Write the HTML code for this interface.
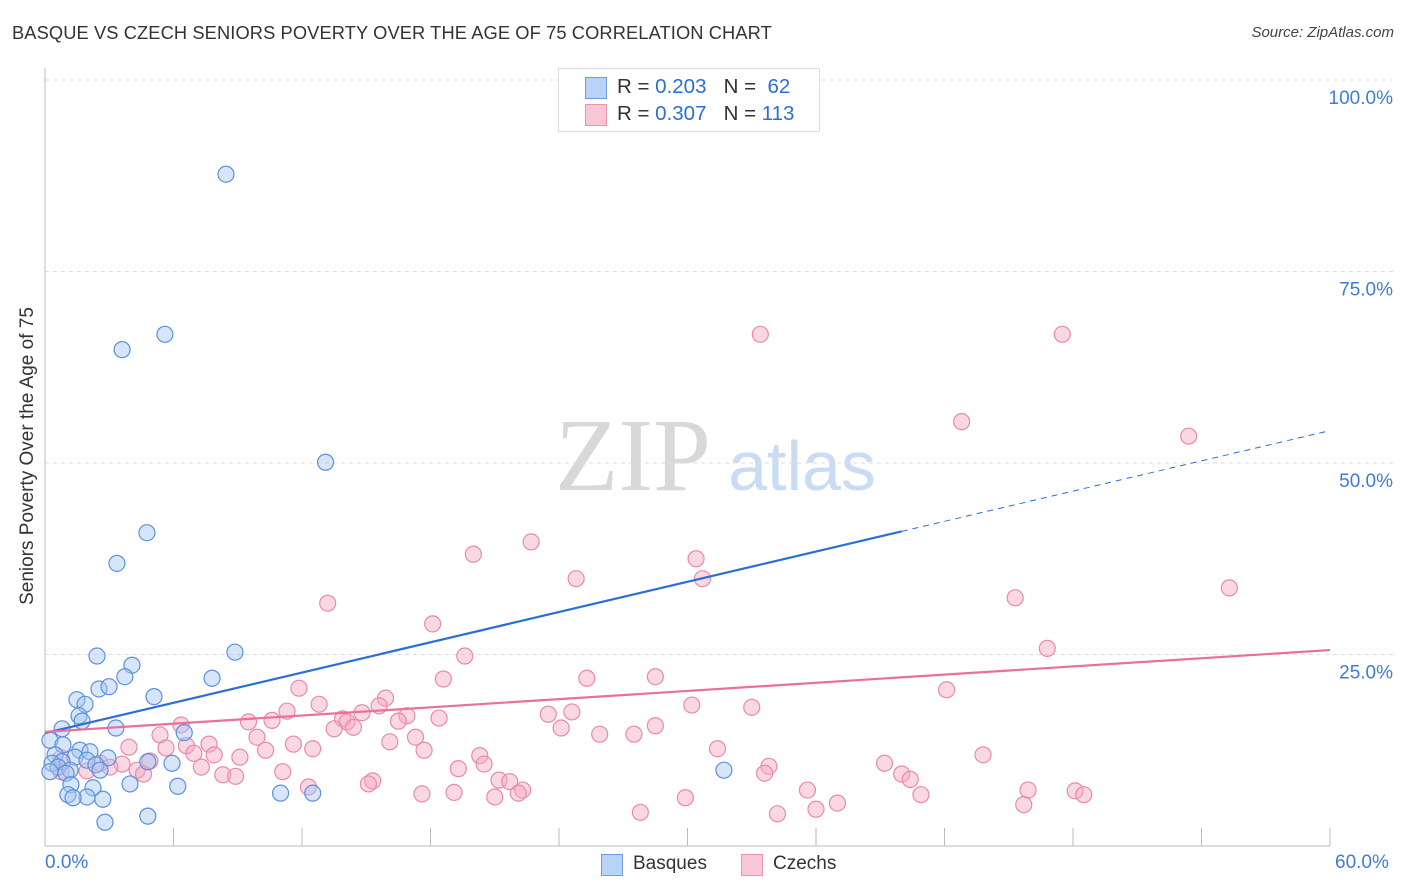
<!DOCTYPE html>
<html><head><meta charset="utf-8"><style>
body{margin:0;background:#fff;font-family:"Liberation Sans",sans-serif;}
#wrap{position:relative;width:1406px;height:892px;overflow:hidden;}
.t{position:absolute;white-space:nowrap;}
</style></head><body>
<div id="wrap">
<div class="t" style="left:12px;top:22px;font-size:18.3px;letter-spacing:0.1px;color:#333;">BASQUE VS CZECH SENIORS POVERTY OVER THE AGE OF 75 CORRELATION CHART</div>
<div class="t" style="right:12px;top:24px;font-size:15px;color:#444;font-style:italic;">Source: ZipAtlas.com</div>
<svg id="svg" width="1406" height="892" style="position:absolute;left:0;top:0">
<text x="633" y="490" font-family="Liberation Serif,serif" font-size="104" fill="#d8d8d8" text-anchor="middle">ZIP</text>
<text x="802" y="490" font-family="Liberation Sans,sans-serif" font-size="70" fill="#c9dcf3" text-anchor="middle">atlas</text>
</svg>
<div class="t" style="left:28px;top:456px;font-size:19px;color:#333;transform:translate(-50%,-50%) rotate(-90deg);transform-origin:center;">Seniors Poverty Over the Age of 75</div>
<div style="position:absolute;left:558px;top:68px;width:260px;height:62px;border:1px solid #ddd;background:#fff;">
 <div style="position:absolute;left:26px;top:8px;width:20px;height:20px;background:#b8d3f5;border:1px solid #6d9ee0;"></div>
 <div class="t" style="left:58px;top:6px;font-size:20.5px;color:#333;">R = <span style="color:#2a6fd6">0.203</span>&nbsp;&nbsp;&nbsp;N = &nbsp;<span style="color:#2a6fd6">62</span></div>
 <div style="position:absolute;left:26px;top:35px;width:20px;height:20px;background:#f9c6d5;border:1px solid #eb94b0;"></div>
 <div class="t" style="left:58px;top:33px;font-size:20.5px;color:#333;">R = <span style="color:#2a6fd6">0.307</span>&nbsp;&nbsp;&nbsp;N = <span style="color:#2a6fd6">113</span></div>
</div>
<div style="position:absolute;left:601px;top:854px;width:20px;height:20px;background:#b8d3f5;border:1px solid #6d9ee0;"></div>
<div class="t" style="left:633px;top:853px;font-size:19px;color:#333;">Basques</div>
<div style="position:absolute;left:741px;top:854px;width:20px;height:20px;background:#f9c6d5;border:1px solid #eb94b0;"></div>
<div class="t" style="left:773px;top:853px;font-size:19px;color:#333;">Czechs</div>
<div class="t" style="left:45px;top:852px;font-size:19px;color:#3f7bd8;">0.0%</div>
<div class="t" style="left:1335px;top:852px;font-size:19px;color:#3f7bd8;">60.0%</div>
</div>
<script>
const yTicks=[25,50,75,100];
const yTickLabels=["25.0%","50.0%","75.0%","100.0%"];
const xTicks=[0,6,12,18,24,30,36,42,48,54,60];
const basqueX=[8.45,5.6,3.6,13.1,4.76,3.36,8.87,2.43,4.06,3.73,7.8,2.52,2.99,5.09,1.49,1.87,1.59,1.73,3.31,0.8,6.5,0.23,0.84,1.63,2.1,0.47,1.4,2.94,1.96,0.8,0.33,4.8,5.93,2.38,0.61,1.17,0.23,2.57,0.98,31.7,1.21,3.97,6.2,2.24,1.07,1.96,1.31,11.0,12.5,2.7,2.8,4.8];
const basqueY=[87.7,66.8,64.8,50.1,40.9,36.9,25.3,24.8,23.6,22.1,21.9,20.5,20.8,19.5,19.1,18.5,17.0,16.3,15.4,15.3,14.8,13.8,13.2,12.5,12.3,11.9,11.6,11.5,11.2,11.0,10.8,11.0,10.8,10.6,10.3,9.9,9.7,9.9,9.5,9.9,8.0,8.1,7.8,7.6,6.7,6.4,6.3,6.9,6.9,6.1,3.1,3.9];
const czechX=[33.4,47.5,42.8,53.4,22.7,20.0,30.4,24.8,30.7,55.3,45.3,13.2,18.1,46.8,19.6,25.3,28.5,18.6,42.1,11.86,15.9,12.8,15.6,30.2,33.0,11.3,16.9,14.8,23.5,24.6,13.9,10.6,9.5,18.4,16.5,14.1,6.35,28.5,24.1,14.4,13.5,5.37,9.9,25.9,27.5,17.3,16.1,7.66,11.6,3.92,6.6,5.65,10.3,12.5,17.7,6.95,7.9,31.4,43.8,20.3,9.1,0.75,4.9,3.6,2.57,3.03,20.5,7.3,33.8,39.2,4.3,19.3,33.6,40.0,0.75,1.96,11.1,8.3,8.9,4.6,40.4,15.3,15.1,21.2,21.7,35.6,45.9,22.3,19.1,22.1,48.1,48.5,12.3,17.6,21.0,40.9,29.9,37.0,45.7,36.0,27.8,34.2];
const czechY=[66.8,66.8,55.4,53.5,39.7,38.1,37.5,34.9,34.9,33.7,32.4,31.7,29.0,25.8,24.8,21.9,22.1,21.8,20.4,20.6,19.3,18.5,18.3,18.4,18.1,17.6,17.0,17.4,17.2,17.5,16.6,16.4,16.2,16.7,16.3,16.2,15.8,15.7,15.4,15.5,15.3,14.5,14.2,14.6,14.6,14.2,13.6,13.3,13.3,12.9,13.1,12.8,12.5,12.7,12.5,12.1,11.9,12.7,11.9,11.8,11.6,11.5,11.1,10.7,10.8,10.3,10.7,10.3,10.4,10.8,9.9,10.1,9.5,9.4,9.7,9.8,9.7,9.3,9.1,9.4,8.7,8.5,8.1,8.6,8.4,7.3,7.3,7.3,7.0,6.9,7.2,6.7,7.7,6.8,6.4,6.7,6.3,5.6,5.4,4.8,4.4,4.2];
const basqueFit=[14.75,0.658];
const czechFit=[14.9,0.178];
const NS="http://www.w3.org/2000/svg";
const svg=document.getElementById('svg');
const X0=45,X1=1330,Y0=846,PXY=7.66;
const sx=v=>X0+(v/60)*(X1-X0);
const sy=v=>Y0-v*PXY;
function mk(tag,a){const e=document.createElementNS(NS,tag);for(const k in a)e.setAttribute(k,a[k]);svg.appendChild(e);return e;}
yTicks.forEach((t,i)=>{
 const g=mk('line',{x1:X0,x2:1394,y1:sy(t),y2:sy(t),stroke:'#ddd','stroke-dasharray':'4,4'});
 
 
 const tx=mk('text',{x:1393,y:sy(t)+24,'text-anchor':'end','font-size':19,fill:'#3f7bd8','font-family':'Liberation Sans,sans-serif'});
 tx.textContent=yTickLabels[i];
 
 
});
const ax=mk('line',{x1:X0,x2:X0,y1:68,y2:Y0,stroke:'#bbb'});


const bx=mk('line',{x1:X0,x2:X1,y1:Y0,y2:Y0,stroke:'#bbb'});


xTicks.forEach(t=>{
 const l=mk('line',{x1:sx(t),x2:sx(t),y1:828,y2:Y0,stroke:'#bbb'});
 
 
});
function pts(xs,ys,fill,stroke,name){
 xs.forEach((x,i)=>{
  const c=mk('circle',{cx:sx(x),cy:sy(ys[i]),r:8,fill:fill,'fill-opacity':0.45,stroke:stroke,'stroke-width':1.2});
  
  
 });
}
pts(czechX,czechY,'#f5a9c0','#e98aa9','czech-point');
pts(basqueX,basqueY,'#a4c6f0','#5c91db','basque-point');
const l1=mk('line',{x1:sx(0),y1:sy(basqueFit[0]),x2:sx(40),y2:sy(basqueFit[0]+basqueFit[1]*40),stroke:'#2a6fd6','stroke-width':2.2});


const l2=mk('line',{x1:sx(40),y1:sy(basqueFit[0]+basqueFit[1]*40),x2:sx(60),y2:sy(basqueFit[0]+basqueFit[1]*60),stroke:'#2a6fd6','stroke-width':1,'stroke-dasharray':'6,5'});


const l3=mk('line',{x1:sx(0),y1:sy(czechFit[0]),x2:sx(60),y2:sy(czechFit[0]+czechFit[1]*60),stroke:'#e8709a','stroke-width':2.2});


</script>
</body></html>
